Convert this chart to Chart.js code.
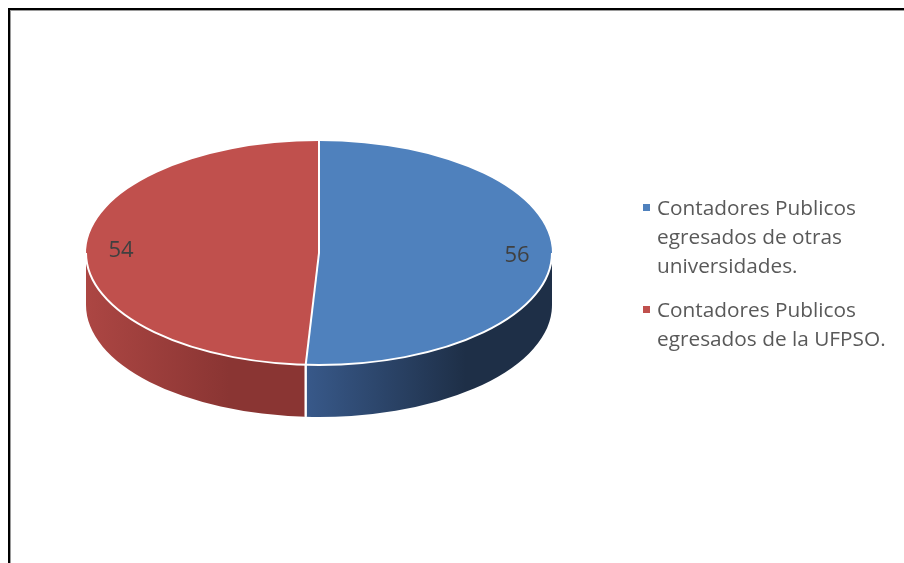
<!DOCTYPE html>
<html lang="es">
<head>
<meta charset="utf-8">
<script src="https://cdn.jsdelivr.net/npm/chart.js@4/dist/chart.umd.min.js"></script>
<style>
  html, body { margin: 0; padding: 0; background: #fff; }
  body { width: 904px; height: 563px; position: relative; overflow: hidden; }
  #frame {
    position: absolute; left: 8px; top: 8px; width: 1000px; height: 1000px;
    border: 2px solid #000; box-shadow: inset 1px 1px 0 #9a9a9a;
    box-sizing: border-box; pointer-events: none;
  }
  #wrap { position: absolute; left: 0; top: 0; width: 904px; height: 563px; }
  #legend {
    position: absolute; left: 641px; top: 193px;
    font-family: "Open Sans", "Liberation Sans", sans-serif; font-size: 20.8px;
    color: #595959; line-height: 29px;
  }
  .item { position: relative; padding-left: 16px; margin-bottom: 15px; white-space: nowrap; }
  .swatch { position: absolute; left: 2px; top: 11px; width: 7px; height: 7px; }
</style>
</head>
<body>
<div id="wrap"><canvas id="chart" width="904" height="563"></canvas></div>
<div id="legend"></div>
<div id="frame"></div>
<script>
// Survey result: where the public accountants graduated
const categories = [
  ['Contadores Publicos', 'egresados de otras', 'universidades.'],
  ['Contadores Publicos', 'egresados de la UFPSO.']
];
const counts = [56, 54];

// Slice colours: top face, and light/dark ends of the side wall shading
const topColors  = ['#4F81BD', '#C0504D'];
const sideLight  = ['#38598A', '#AC4643'];
const sideDark   = ['#1E2F47', '#8A3533'];

const TILT = 112 / 233;   // vertical squash of the disc
const DEPTH = 52;         // thickness of the disc in px

// Portions of an arc that lie on the front (lower) half of the disc
function frontSpans(a, b) {
  const spans = [];
  for (let k = -1; k <= 1; k++) {
    const lo = Math.max(a, 2 * Math.PI * k), hi = Math.min(b, 2 * Math.PI * k + Math.PI);
    if (hi > lo) spans.push([lo, hi]);
  }
  return spans;
}

const pie3d = {
  id: 'pie3d',
  beforeDatasetsDraw(chart) {
    const arcs = chart.getDatasetMeta(0).data;
    if (!arcs.length) return;
    const ctx = chart.ctx;
    const { x: cx, y: cy, outerRadius: r } = arcs[0];
    const ry = r * TILT;

    // side walls
    arcs.forEach((arc, i) => {
      frontSpans(arc.startAngle, arc.endAngle).forEach(([a1, a2]) => {
        const xa = cx + r * Math.cos(a1), xb = cx + r * Math.cos(a2);
        const g = ctx.createLinearGradient(Math.min(xa, xb), 0, Math.max(xa, xb), 0);
        g.addColorStop(0, sideLight[i]);
        g.addColorStop(0.65, sideDark[i]);
        g.addColorStop(1, sideDark[i]);
        ctx.beginPath();
        ctx.ellipse(cx, cy, r, ry, 0, a1, a2);
        ctx.ellipse(cx, cy + DEPTH, r, ry, 0, a2, a1, true);
        ctx.closePath();
        ctx.fillStyle = g;
        ctx.fill();
      });
    });

    // seams on the side wall where slices meet
    ctx.save();
    ctx.strokeStyle = '#fff';
    ctx.lineWidth = 2;
    arcs.forEach(arc => {
      [arc.startAngle, arc.endAngle].forEach(a => {
        const s = Math.sin(a);
        if (s > 0.02) {
          const x = cx + r * Math.cos(a), y = cy + ry * s;
          ctx.beginPath();
          ctx.moveTo(x, y);
          ctx.lineTo(x, y + DEPTH);
          ctx.stroke();
        }
      });
    });
    ctx.restore();

    // squash the circular pie into the top face of the disc
    ctx.save();
    ctx.translate(cx, cy);
    ctx.scale(1, TILT);
    ctx.translate(-cx, -cy);
  },
  afterDatasetsDraw(chart) {
    const arcs = chart.getDatasetMeta(0).data;
    if (!arcs.length) return;
    const ctx = chart.ctx;
    ctx.restore();
    const { x: cx, y: cy, outerRadius: r } = arcs[0];
    const ry = r * TILT;

    ctx.save();
    ctx.strokeStyle = '#fff';
    ctx.lineWidth = 2;
    // front rim of the top face
    ctx.beginPath();
    ctx.ellipse(cx, cy, r, ry, 0, 0, Math.PI);
    ctx.stroke();
    // radial dividers
    arcs.forEach(arc => {
      const a = arc.startAngle;
      ctx.beginPath();
      ctx.moveTo(cx, cy);
      ctx.lineTo(cx + r * Math.cos(a), cy + ry * Math.sin(a));
      ctx.stroke();
    });
    ctx.restore();

    // value labels
    ctx.save();
    ctx.font = '22px "Open Sans", "Liberation Sans", sans-serif';
    ctx.fillStyle = '#404040';
    ctx.textAlign = 'center';
    ctx.textBaseline = 'middle';
    arcs.forEach((arc, i) => {
      const mid = (arc.startAngle + arc.endAngle) / 2;
      const x = cx + Math.cos(mid) * r * 0.85;
      const y = cy + Math.sin(mid) * ry * 0.85;
      ctx.fillText(String(chart.data.datasets[0].data[i]), x, y);
    });
    ctx.restore();
  }
};

const chart = new Chart(document.getElementById('chart'), {
  type: 'pie',
  data: {
    labels: categories,
    datasets: [{
      data: counts,
      backgroundColor: topColors,
      borderWidth: 0
    }]
  },
  options: {
    responsive: false,
    animation: false,
    events: [],
    layout: { padding: { left: 86, right: 352, top: 20, bottom: 77 } },
    plugins: { legend: { display: false }, tooltip: { enabled: false } }
  },
  plugins: [pie3d]
});

// legend beside the disc
const legendEl = document.getElementById('legend');
chart.data.labels.forEach((lines, i) => {
  const item = document.createElement('div');
  item.className = 'item';
  const sw = document.createElement('span');
  sw.className = 'swatch';
  sw.style.background = topColors[i];
  item.appendChild(sw);
  lines.forEach((line, j) => {
    if (j) item.appendChild(document.createElement('br'));
    item.appendChild(document.createTextNode(line));
  });
  legendEl.appendChild(item);
});
</script>
</body>
</html>
